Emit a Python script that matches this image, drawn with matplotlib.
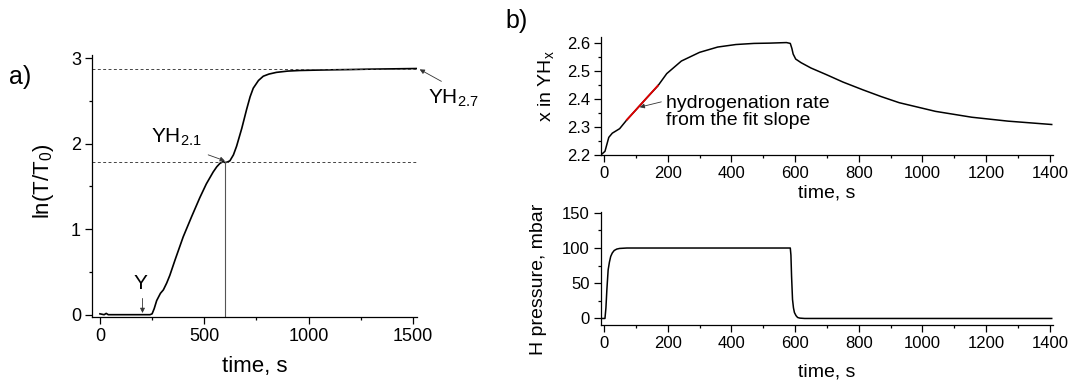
import matplotlib
matplotlib.use('Agg')
import matplotlib.pyplot as plt
from matplotlib.ticker import MultipleLocator

plt.rcParams['font.family'] = ['Liberation Sans', 'DejaVu Sans']
plt.rcParams['mathtext.fontset'] = 'custom'
plt.rcParams['mathtext.rm'] = 'Liberation Sans'
plt.rcParams['mathtext.it'] = 'Liberation Sans:italic'
plt.rcParams['mathtext.default'] = 'regular'

# ── a) optical transmission ──────────────────────────────────────────────────
a_time = [0, 20, 30, 40, 100, 200, 240, 250, 260, 272, 290, 304, 320, 335, 360,
          399, 440, 479, 510, 543, 560, 575, 590, 600, 610, 623, 640, 655, 680,
          703, 720, 735, 760, 783, 810, 846, 900, 958, 1050, 1118, 1200, 1278,
          1400, 1520]
a_lnT = [0.01, 0.0, 0.015, 0.0, 0.0, 0.0, 0.0, 0.01, 0.07, 0.165, 0.25, 0.29,
         0.37, 0.46, 0.64, 0.91, 1.15, 1.37, 1.53, 1.67, 1.73, 1.77, 1.79,
         1.78, 1.785, 1.80, 1.87, 1.97, 2.18, 2.40, 2.55, 2.65, 2.74, 2.79,
         2.815, 2.835, 2.85, 2.857, 2.862, 2.865, 2.868, 2.872, 2.876, 2.88]
a_levels = [1.785, 2.875]      # YH2.1 and YH2.7 plateaus
a_t_knee = 600

# ── b) composition and pressure ──────────────────────────────────────────────
b_time = [-6, 3, 9, 15, 26, 49, 72, 100, 130, 169, 197, 243, 300, 357, 414,
          471, 520, 573, 585, 590, 594, 602, 619, 650, 699, 750, 813, 870, 927,
          1041, 1155, 1269, 1406]
b_x = [2.203, 2.212, 2.237, 2.262, 2.277, 2.293, 2.325, 2.36, 2.398, 2.446,
       2.49, 2.535, 2.566, 2.585, 2.594, 2.598, 2.599, 2.601, 2.598, 2.58,
       2.56, 2.542, 2.529, 2.51, 2.486, 2.46, 2.432, 2.408, 2.386, 2.355,
       2.334, 2.32, 2.308]
fit_time = [72, 169]
fit_x = [2.325, 2.447]

p_time = [-6, 3, 6, 9, 13, 17, 21, 26, 32, 40, 49, 72, 585, 587, 589, 592,
          595, 598, 603, 608, 615, 630, 1406]
p_mbar = [0, 0, 15, 41, 69, 80, 88, 93, 96.5, 98.5, 99.4, 100, 100, 90, 60,
          27, 15, 8.4, 4, 1.4, 0.5, 0, 0]

fig = plt.figure(figsize=(10.7, 3.84), dpi=100)


def style(ax, fs):
    for side in ('top', 'right'):
        ax.spines[side].set_visible(False)
    for side in ('left', 'bottom'):
        ax.spines[side].set_linewidth(0.9)
    ax.tick_params(which='major', direction='out', length=5, width=0.9,
                   labelsize=fs, pad=3)
    ax.tick_params(which='minor', direction='out', length=2.5, width=0.9)


ARW = dict(arrowstyle='-|>', lw=0.6, color='#333333', mutation_scale=7,
           shrinkA=0, shrinkB=0)

# ── panel a ──────────────────────────────────────────────────────────────────
ax_a = fig.add_axes([0.0860, 0.1745, 0.3037, 0.682])
style(ax_a, 13)
ax_a.plot(a_time, a_lnT, color='black', lw=1.2)
for lev in a_levels:
    ax_a.axhline(lev, color='#444444', lw=0.7, ls=(0, (3, 2.5)))
ax_a.plot([a_t_knee, a_t_knee], [-0.03, a_levels[0]], color='#555555', lw=0.8)
ax_a.set_xlim(-38, 1520)
ax_a.set_ylim(-0.027, 3.037)
ax_a.xaxis.set_major_locator(MultipleLocator(500))
ax_a.xaxis.set_minor_locator(MultipleLocator(250))
ax_a.yaxis.set_major_locator(MultipleLocator(1))
ax_a.yaxis.set_minor_locator(MultipleLocator(0.5))
ax_a.set_xlabel('time, s', fontsize=16)
ax_a.set_ylabel('ln(T/T$_0$)', fontsize=16)
ax_a.xaxis.set_label_coords(0.5, -0.15)
ax_a.yaxis.set_label_coords(-0.11, 0.52)

ax_a.text(192, 0.37, 'Y', fontsize=15, ha='center', va='center')
ax_a.annotate('', xy=(204, 0.02), xytext=(204, 0.19), arrowprops=ARW)
ax_a.text(367, 2.08, 'YH$_{2.1}$', fontsize=15, ha='center', va='center')
ax_a.annotate('', xy=(599, 1.80), xytext=(519, 1.87), arrowprops=ARW)
ax_a.text(1573, 2.53, 'YH$_{2.7}$', fontsize=15, ha='left', va='center',
          clip_on=False)
ax_a.annotate('', xy=(1533, 2.87), xytext=(1637, 2.73), arrowprops=ARW,
              annotation_clip=False)
fig.text(0.008, 0.80, 'a)', fontsize=18, ha='left', va='center')

# ── panel b, top ─────────────────────────────────────────────────────────────
ax_b1 = fig.add_axes([0.5617, 0.5964, 0.4224, 0.3073])
style(ax_b1, 12)
ax_b1.plot(b_time, b_x, color='black', lw=1.1)
ax_b1.plot(fit_time, fit_x, color='#e00000', lw=1.3)
ax_b1.set_xlim(-9.4, 1410)
ax_b1.set_ylim(2.199, 2.621)
ax_b1.xaxis.set_major_locator(MultipleLocator(200))
ax_b1.xaxis.set_minor_locator(MultipleLocator(100))
ax_b1.yaxis.set_major_locator(MultipleLocator(0.1))
ax_b1.yaxis.set_minor_locator(MultipleLocator(0.05))
ax_b1.yaxis.set_major_formatter(plt.FormatStrFormatter('%.1f'))
ax_b1.set_xlabel('time, s', fontsize=14)
ax_b1.set_ylabel('x in YH$_x$', fontsize=14)
ax_b1.xaxis.set_label_coords(0.5, -0.25)
ax_b1.yaxis.set_label_coords(-0.10, 0.58)
ax_b1.text(195, 2.353, 'hydrogenation rate\nfrom the fit slope', fontsize=14,
           ha='left', va='center', linespacing=1.05)
ax_b1.annotate('', xy=(112, 2.370), xytext=(180, 2.389), arrowprops=ARW)
fig.text(0.472, 0.945, 'b)', fontsize=18, ha='left', va='center')

# ── panel b, bottom ──────────────────────────────────────────────────────────
ax_b2 = fig.add_axes([0.5617, 0.1536, 0.4224, 0.295])
style(ax_b2, 12)
ax_b2.plot(p_time, p_mbar, color='black', lw=1.1)
ax_b2.set_xlim(-9.4, 1410)
ax_b2.set_ylim(-9.3, 151.5)
ax_b2.xaxis.set_major_locator(MultipleLocator(200))
ax_b2.xaxis.set_minor_locator(MultipleLocator(100))
ax_b2.yaxis.set_major_locator(MultipleLocator(50))
ax_b2.yaxis.set_minor_locator(MultipleLocator(25))
ax_b2.set_xlabel('time, s', fontsize=14)
ax_b2.set_ylabel('H pressure, mbar', fontsize=14)
ax_b2.xaxis.set_label_coords(0.5, -0.34)
ax_b2.yaxis.set_label_coords(-0.12, 0.40)

fig.savefig('out.png', dpi=100)
